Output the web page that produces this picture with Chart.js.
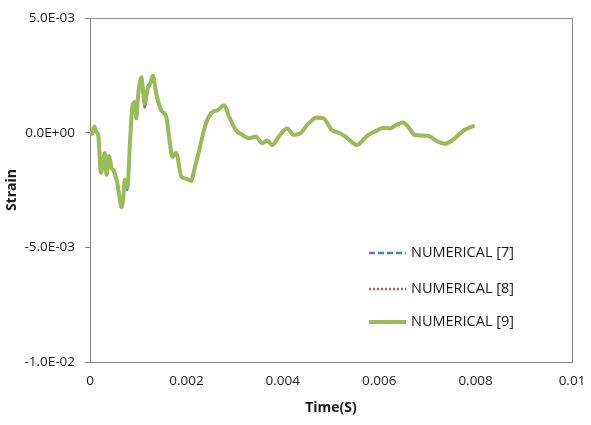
<!DOCTYPE html>
<html>
<head>
<meta charset="utf-8">
<script src="https://cdn.jsdelivr.net/npm/chart.js@4/dist/chart.umd.min.js"></script>
<style>
  html, body { margin: 0; padding: 0; background: #fff; }
  #wrap { width: 591px; height: 425px; }
</style>
</head>
<body>
<div id="wrap"><canvas id="strainChart" width="591" height="425"></canvas></div>
<script>
// time (s)
const time = [0, 0.000041, 0.000089, 0.000124, 0.000171, 0.000227, 0.000309, 0.000344, 0.000392, 0.000447,
  0.000495, 0.000551, 0.000598, 0.000654, 0.000691, 0.000722, 0.000777, 0.000825, 0.000880, 0.000928,
  0.000963, 0.000996, 0.001066, 0.001103, 0.001134, 0.001202, 0.001247, 0.001305, 0.001375, 0.001478,
  0.001581, 0.001649, 0.001705, 0.001788, 0.001891, 0.001994, 0.002097, 0.002165, 0.002268, 0.002406,
  0.002542, 0.002645, 0.002784, 0.002887, 0.003025, 0.003161, 0.003299, 0.003437, 0.003573, 0.003676,
  0.003779, 0.003918, 0.004089, 0.004227, 0.004365, 0.004536, 0.004707, 0.004845, 0.005016, 0.005190,
  0.005293, 0.005361, 0.005532, 0.005773, 0.005979, 0.006082, 0.006221, 0.006357, 0.006495, 0.006598,
  0.006736, 0.006907, 0.007045, 0.007216, 0.007355, 0.007526, 0.007767, 0.007979];

// strain, three numerical results
const strain7 = [0.06e-3, -0.06e-3, 0.25e-3, 0.05e-3, -0.12e-3, -1.70e-3, -0.90e-3, -1.80e-3, -1.05e-3, -1.50e-3,
  -1.70e-3, -2.08e-3, -2.58e-3, -3.10e-3, -2.75e-3, -2.12e-3, -2.50e-3, -0.62e-3, 1.10e-3, 1.30e-3,
  0.60e-3, 1.52e-3, 2.38e-3, 1.70e-3, 1.10e-3, 1.95e-3, 2.08e-3, 2.45e-3, 1.62e-3, 0.95e-3,
  0.68e-3, -0.35e-3, -1.08e-3, -0.92e-3, -1.92e-3, -2.03e-3, -2.10e-3, -1.62e-3, -0.80e-3, 0.36e-3,
  0.88e-3, 0.96e-3, 1.17e-3, 0.67e-3, 0.10e-3, -0.12e-3, -0.26e-3, -0.19e-3, -0.47e-3, -0.36e-3,
  -0.55e-3, -0.18e-3, 0.17e-3, -0.11e-3, -0.04e-3, 0.39e-3, 0.64e-3, 0.61e-3, 0.10e-3, -0.04e-3,
  -0.18e-3, -0.30e-3, -0.55e-3, -0.11e-3, 0.10e-3, 0.20e-3, 0.17e-3, 0.32e-3, 0.43e-3, 0.25e-3,
  -0.11e-3, -0.14e-3, -0.18e-3, -0.40e-3, -0.50e-3, -0.33e-3, 0.10e-3, 0.30e-3];
const strain8 = [0.06e-3, -0.06e-3, 0.26e-3, 0.05e-3, -0.11e-3, -1.72e-3, -0.89e-3, -1.82e-3, -1.03e-3, -1.51e-3,
  -1.68e-3, -2.06e-3, -2.60e-3, -3.15e-3, -2.78e-3, -2.10e-3, -2.47e-3, -0.60e-3, 1.12e-3, 1.32e-3,
  0.61e-3, 1.55e-3, 2.45e-3, 1.74e-3, 1.14e-3, 1.97e-3, 2.10e-3, 2.47e-3, 1.66e-3, 0.96e-3,
  0.69e-3, -0.33e-3, -1.06e-3, -0.90e-3, -1.90e-3, -2.02e-3, -2.10e-3, -1.61e-3, -0.77e-3, 0.38e-3,
  0.90e-3, 0.97e-3, 1.19e-3, 0.69e-3, 0.11e-3, -0.10e-3, -0.25e-3, -0.17e-3, -0.46e-3, -0.35e-3,
  -0.54e-3, -0.17e-3, 0.18e-3, -0.10e-3, -0.03e-3, 0.40e-3, 0.65e-3, 0.62e-3, 0.11e-3, -0.03e-3,
  -0.17e-3, -0.29e-3, -0.54e-3, -0.10e-3, 0.11e-3, 0.21e-3, 0.18e-3, 0.33e-3, 0.44e-3, 0.26e-3,
  -0.10e-3, -0.13e-3, -0.17e-3, -0.39e-3, -0.49e-3, -0.32e-3, 0.11e-3, 0.31e-3];
const strain9 = [0.06e-3, -0.06e-3, 0.27e-3, 0.06e-3, -0.11e-3, -1.75e-3, -0.88e-3, -1.83e-3, -1.01e-3, -1.53e-3,
  -1.66e-3, -2.05e-3, -2.61e-3, -3.25e-3, -2.82e-3, -2.05e-3, -2.39e-3, -0.58e-3, 1.14e-3, 1.34e-3,
  0.63e-3, 1.57e-3, 2.42e-3, 1.79e-3, 1.27e-3, 1.99e-3, 2.13e-3, 2.49e-3, 1.70e-3, 0.98e-3,
  0.70e-3, -0.31e-3, -1.03e-3, -0.88e-3, -1.89e-3, -2.00e-3, -2.10e-3, -1.60e-3, -0.74e-3, 0.41e-3,
  0.91e-3, 0.98e-3, 1.20e-3, 0.70e-3, 0.12e-3, -0.09e-3, -0.24e-3, -0.16e-3, -0.45e-3, -0.34e-3,
  -0.53e-3, -0.16e-3, 0.19e-3, -0.09e-3, -0.02e-3, 0.41e-3, 0.66e-3, 0.63e-3, 0.12e-3, -0.02e-3,
  -0.16e-3, -0.28e-3, -0.53e-3, -0.09e-3, 0.12e-3, 0.22e-3, 0.19e-3, 0.34e-3, 0.45e-3, 0.27e-3,
  -0.09e-3, -0.12e-3, -0.16e-3, -0.38e-3, -0.48e-3, -0.31e-3, 0.12e-3, 0.31e-3];

const seriesNames = ['NUMERICAL [7]', 'NUMERICAL [8]', 'NUMERICAL [9]'];
const xTicks = [0, 0.002, 0.004, 0.006, 0.008, 0.01];
const yTicks = [-0.01, -0.005, 0, 0.005];

const axisGray = '#868686';
const textColor = '#1a1a1a';
const fontFamily = '"Open Sans", sans-serif';

function pts(ys) {
  return time.map((t, i) => ({ x: t, y: ys[i] }));
}

function sci(v) {
  const parts = v.toExponential(1).split('e');
  const e = parseInt(parts[1], 10);
  const sign = e < 0 ? '-' : '+';
  return parts[0] + 'E' + sign + String(Math.abs(e)).padStart(2, '0');
}

// top and right sides of the plot frame
const frame = {
  id: 'frame',
  afterDraw(chart) {
    const { ctx, chartArea: a } = chart;
    ctx.save();
    ctx.strokeStyle = axisGray;
    ctx.lineWidth = 1;
    ctx.beginPath();
    ctx.moveTo(a.left, a.top + 0.5);
    ctx.lineTo(a.right + 0.5, a.top + 0.5);
    ctx.lineTo(a.right + 0.5, a.bottom);
    ctx.stroke();
    ctx.restore();
  }
};

// legend sitting inside the plot, lower right
const insideLegend = {
  id: 'insideLegend',
  afterDraw(chart) {
    const ctx = chart.ctx;
    const x0 = 369;
    const rows = [253, 289, 322];
    chart.data.datasets.forEach((ds, i) => {
      ctx.save();
      ctx.strokeStyle = ds.borderColor;
      ctx.lineWidth = ds.borderWidth;
      ctx.setLineDash(ds.borderDash || []);
      ctx.beginPath();
      ctx.moveTo(x0, rows[i]);
      ctx.lineTo(x0 + 37, rows[i]);
      ctx.stroke();
      ctx.setLineDash([]);
      ctx.fillStyle = textColor;
      ctx.font = '14.5px ' + fontFamily;
      ctx.textBaseline = 'middle';
      ctx.fillText(ds.label, x0 + 42, rows[i]);
      ctx.restore();
    });
  }
};

const ctx = document.getElementById('strainChart').getContext('2d');
const strainChart = new Chart(ctx, {
  type: 'line',
  data: {
    datasets: [
      {
        label: seriesNames[0], data: pts(strain7), order: 2,
        borderColor: '#4F81BD', borderWidth: 2.5, borderDash: [6, 3]
      },
      {
        label: seriesNames[1], data: pts(strain8), order: 1,
        borderColor: '#C0504D', borderWidth: 2.5, borderDash: [2, 2]
      },
      {
        label: seriesNames[2], data: pts(strain9), order: 0,
        borderColor: '#9BBB59', borderWidth: 4
      }
    ]
  },
  options: {
    responsive: false,
    animation: false,
    parsing: false,
    layout: { padding: { top: 13, right: 19, left: 0, bottom: 0 } },
    elements: {
      point: { radius: 0 },
      line: { cubicInterpolationMode: 'monotone', fill: false }
    },
    plugins: {
      legend: { display: false },
      tooltip: { enabled: false }
    },
    scales: {
      x: {
        type: 'linear',
        min: 0, max: 0.01,
        afterBuildTicks: s => { s.ticks = xTicks.map(v => ({ value: v })); },
        afterFit: s => { s.height = 63; s.paddingRight = 0; s.paddingLeft = 0; },
        grid: { display: true, drawOnChartArea: false, drawTicks: false },
        border: { color: axisGray, width: 1 },
        ticks: {
          padding: 11,
          color: textColor,
          font: { family: fontFamily, size: 13.5 },
          maxRotation: 0,
          callback: v => v === 0 ? '0' : String(+v.toFixed(3))
        },
        title: {
          display: true, text: 'Time(S)', color: textColor,
          font: { family: fontFamily, size: 14, weight: 'bold' },
          padding: { top: 0, bottom: 9 }
        }
      },
      y: {
        min: -0.01, max: 0.005,
        afterBuildTicks: s => { s.ticks = yTicks.map(v => ({ value: v })); },
        afterFit: s => { s.width = 90; },
        grid: { display: true, drawOnChartArea: false, drawTicks: true, tickLength: 5, color: axisGray },
        border: { color: axisGray, width: 1 },
        ticks: {
          padding: 10,
          color: textColor,
          font: { family: fontFamily, size: 13.5 },
          callback: v => sci(v)
        },
        title: {
          display: true, text: 'Strain', color: textColor,
          font: { family: fontFamily, size: 14, weight: 'bold' },
          padding: { top: 4, bottom: 0 }
        }
      }
    }
  },
  plugins: [frame, insideLegend]
});
</script>
</body>
</html>
